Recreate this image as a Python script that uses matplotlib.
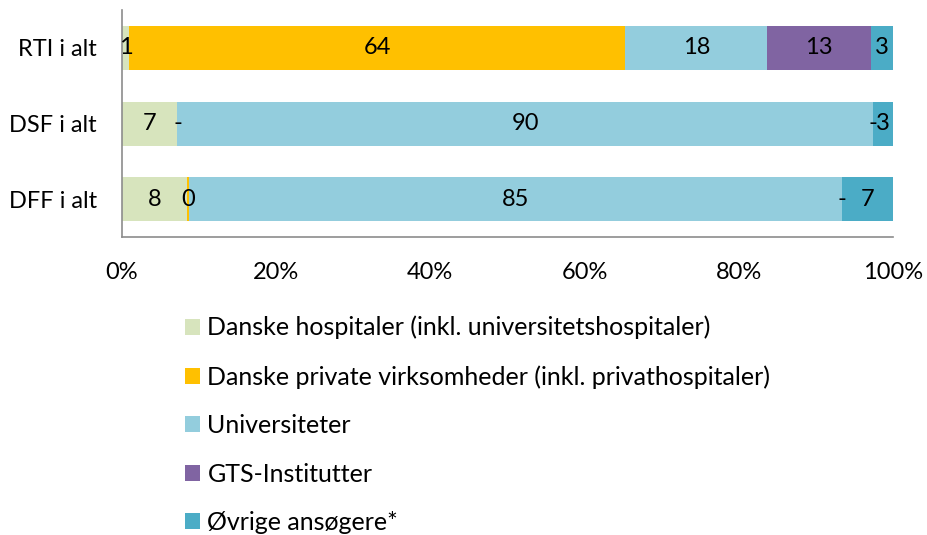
import numpy as np
import matplotlib.pyplot as plt

plt.rcParams['font.family'] = ['Lato', 'DejaVu Sans']

# Categories (top to bottom) and series shares in percent
categories = ['RTI i alt', 'DSF i alt', 'DFF i alt']
series_names = [
    'Danske hospitaler (inkl. universitetshospitaler)',
    'Danske private virksomheder (inkl. privathospitaler)',
    'Universiteter',
    'GTS-Institutter',
    'Øvrige ansøgere*',
]
hospitaler = [0.9, 7.2, 8.4]
private = [64.4, 0.0, 0.3]
universiteter = [18.4, 90.2, 84.7]
gts = [13.4, 0.0, 0.0]
oevrige = [2.9, 2.6, 6.6]
colors = ['#D7E4BD', '#FFC000', '#93CDDD', '#8064A2', '#4BACC6']

values = [hospitaler, private, universiteter, gts, oevrige]


def fmt(v):
    # Excel style number format: zero shown as a dash
    return '-' if v == 0 else f'{v:.0f}'


fig = plt.figure(figsize=(9.27, 5.35), dpi=100)
ax = fig.add_axes([0.1316, 0.557, 0.8316, 0.424])

y = np.arange(len(categories))
left = np.zeros(len(categories))
for name, vals, col in zip(series_names, values, colors):
    vals = np.array(vals)
    bars = ax.barh(y, vals, left=left, height=0.58, color=col, label=name)
    ax.bar_label(bars, labels=[fmt(v) for v in vals], label_type='center',
                 fontsize=17, color='black')
    left += vals

ax.set_xlim(0, 100)
ax.set_ylim(2.5, -0.5)
ax.set_yticks(y)
ax.set_yticklabels(categories, fontsize=17)
ax.set_xticks(np.arange(0, 101, 20))
ax.set_xticklabels([f'{t}%' for t in range(0, 101, 20)], fontsize=17)
ax.tick_params(axis='both', length=0)
ax.tick_params(axis='x', pad=18)
ax.tick_params(axis='y', pad=18)
for s in ['top', 'right']:
    ax.spines[s].set_visible(False)
for s in ['left', 'bottom']:
    ax.spines[s].set_color('#8c8c8c')
    ax.spines[s].set_linewidth(1.2)

fig.legend(loc='upper left', bbox_to_anchor=(0.186, 0.433), frameon=False,
           fontsize=18, handlelength=0.6, handleheight=0.6,
           handletextpad=0.3, labelspacing=1.02, borderpad=0)

fig.savefig('out.png', dpi=100)
